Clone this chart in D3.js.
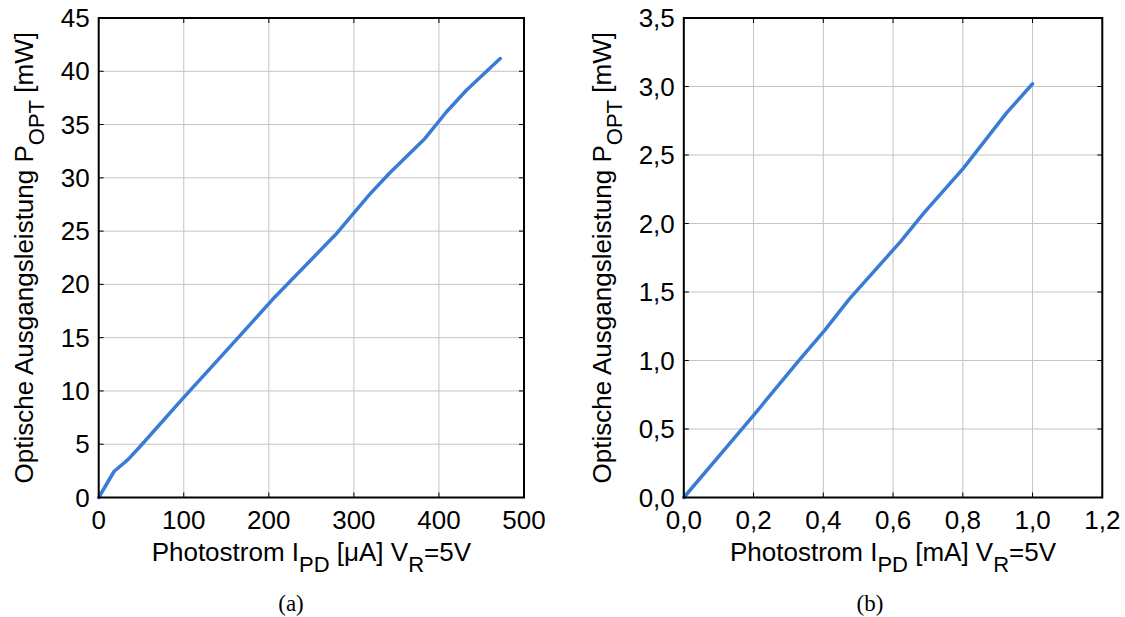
<!DOCTYPE html>
<html>
<head>
    <meta charset="utf-8">
    <title>Optische Ausgangsleistung vs Photostrom</title>
    <script src="https://d3js.org/d3.v7.min.js"></script>
    <style>
        body { margin: 0; background: #fff; }
    </style>
</head>
<body>
<div id="chart"></div>
<script>
    // (a) current in uA, power in mW
    var currentA = [0, 18, 35, 50, 99, 164, 204, 280, 318, 341.5, 383.6, 409, 432, 472];
    var powerA   = [0, 2.44, 3.6, 4.9, 9.3, 15.0, 18.55, 24.8, 28.4, 30.4, 33.7, 36.2, 38.2, 41.2];
    var xTicksA = [0, 100, 200, 300, 400, 500];
    var yTicksA = [0, 5, 10, 15, 20, 25, 30, 35, 40, 45];

    // (b) current in mA, power in mW
    var currentB = [0, 0.13, 0.2, 0.328, 0.405, 0.475, 0.622, 0.688, 0.802, 0.925, 1.0];
    var powerB   = [0, 0.39, 0.6, 0.993, 1.224, 1.45, 1.869, 2.076, 2.404, 2.806, 3.02];
    var xTicksB = [0, 0.2, 0.4, 0.6, 0.8, 1.0, 1.2];
    var yTicksB = [0, 0.5, 1.0, 1.5, 2.0, 2.5, 3.0, 3.5];

    var W = 1125, H = 617;
    var SANS = "'Liberation Sans', Arial, sans-serif";
    var SERIF = "'Liberation Serif', 'DejaVu Serif', serif";
    var FS = 26, SUB = 22;

    var svg = d3.select("#chart").append("svg")
        .attr("width", W)
        .attr("height", H);

    var fmtComma = function(d) { return d3.format(".1f")(d).replace(".", ","); };

    function drawPanel(opt) {
        var x = d3.scaleLinear().domain(opt.xDomain).range([opt.left, opt.right]);
        var y = d3.scaleLinear().domain(opt.yDomain).range([opt.bottom, opt.top]);
        var g = svg.append("g");

        // grid
        g.selectAll(".gx").data(opt.xTicks).enter().append("line")
            .attr("x1", function(d) { return x(d); }).attr("x2", function(d) { return x(d); })
            .attr("y1", opt.top).attr("y2", opt.bottom)
            .attr("stroke", "#c4c4c4").attr("stroke-width", 1);
        g.selectAll(".gy").data(opt.yTicks).enter().append("line")
            .attr("y1", function(d) { return y(d); }).attr("y2", function(d) { return y(d); })
            .attr("x1", opt.left).attr("x2", opt.right)
            .attr("stroke", "#c4c4c4").attr("stroke-width", 1);

        // inward tick marks on all four sides
        var tl = 5;
        opt.xTicks.forEach(function(d) {
            g.append("line").attr("x1", x(d)).attr("x2", x(d)).attr("y1", opt.bottom).attr("y2", opt.bottom - tl).attr("stroke", "#000");
            g.append("line").attr("x1", x(d)).attr("x2", x(d)).attr("y1", opt.top).attr("y2", opt.top + tl).attr("stroke", "#000");
        });
        opt.yTicks.forEach(function(d) {
            g.append("line").attr("y1", y(d)).attr("y2", y(d)).attr("x1", opt.left).attr("x2", opt.left + tl).attr("stroke", "#000");
            g.append("line").attr("y1", y(d)).attr("y2", y(d)).attr("x1", opt.right).attr("x2", opt.right - tl).attr("stroke", "#000");
        });

        // data line
        var pts = opt.xs.map(function(v, i) { return [v, opt.ys[i]]; });
        g.append("path")
            .datum(pts)
            .attr("fill", "none")
            .attr("stroke", "#3a7bd5")
            .attr("stroke-width", 3.5)
            .attr("stroke-linejoin", "round")
            .attr("stroke-linecap", "round")
            .attr("d", d3.line().x(function(d) { return x(d[0]); }).y(function(d) { return y(d[1]); }));

        // box
        g.append("rect")
            .attr("x", opt.left).attr("y", opt.top)
            .attr("width", opt.right - opt.left).attr("height", opt.bottom - opt.top)
            .attr("fill", "none").attr("stroke", "#000").attr("stroke-width", 2);

        // tick labels
        g.selectAll(".xl").data(opt.xTicks).enter().append("text")
            .style("font-family", SANS).style("font-size", FS + "px")
            .attr("x", function(d) { return x(d); })
            .attr("y", opt.bottom + 31)
            .attr("text-anchor", "middle")
            .text(opt.fmt);
        g.selectAll(".yl").data(opt.yTicks).enter().append("text")
            .style("font-family", SANS).style("font-size", FS + "px")
            .attr("x", opt.left - 9)
            .attr("y", function(d) { return y(d) + 9; })
            .attr("text-anchor", "end")
            .text(opt.fmt);

        // x axis label
        var xl = g.append("text")
            .style("font-family", SANS).style("font-size", FS + "px")
            .attr("x", (opt.left + opt.right) / 2)
            .attr("y", 561)
            .attr("text-anchor", "middle");
        xl.append("tspan").text("Photostrom I");
        xl.append("tspan").attr("dy", 11).style("font-size", SUB + "px").text("PD");
        xl.append("tspan").attr("dy", -11).text(" " + opt.unit + " V");
        xl.append("tspan").attr("dy", 11).style("font-size", SUB + "px").text("R");
        xl.append("tspan").attr("dy", -11).text("=5V");

        // y axis label
        var yl = g.append("text")
            .style("font-family", SANS).style("font-size", FS + "px")
            .attr("transform", "translate(" + opt.yLabelX + "," + ((opt.top + opt.bottom) / 2) + ") rotate(-90)")
            .attr("text-anchor", "middle");
        yl.append("tspan").text("Optische Ausgangsleistung P");
        yl.append("tspan").attr("dy", 11).style("font-size", SUB + "px").text("OPT");
        yl.append("tspan").attr("dy", -11).text(" [mW]");

        // caption
        g.append("text")
            .style("font-family", SERIF).style("font-size", "23px")
            .attr("x", opt.captionX)
            .attr("y", 611)
            .attr("text-anchor", "middle")
            .text(opt.caption);
    }

    drawPanel({
        xs: currentA, ys: powerA,
        xDomain: [0, 500], yDomain: [0, 45],
        xTicks: xTicksA, yTicks: yTicksA,
        left: 98.7, right: 524, top: 18, bottom: 497.5,
        fmt: function(d) { return String(d); },
        unit: "[\u03bcA]",
        yLabelX: 33, captionX: 291, caption: "(a)"
    });

    drawPanel({
        xs: currentB, ys: powerB,
        xDomain: [0, 1.2], yDomain: [0, 3.5],
        xTicks: xTicksB, yTicks: yTicksB,
        left: 683.8, right: 1102.3, top: 18, bottom: 497.5,
        fmt: fmtComma,
        unit: "[mA]",
        yLabelX: 611, captionX: 870, caption: "(b)"
    });
</script>
</body>
</html>
